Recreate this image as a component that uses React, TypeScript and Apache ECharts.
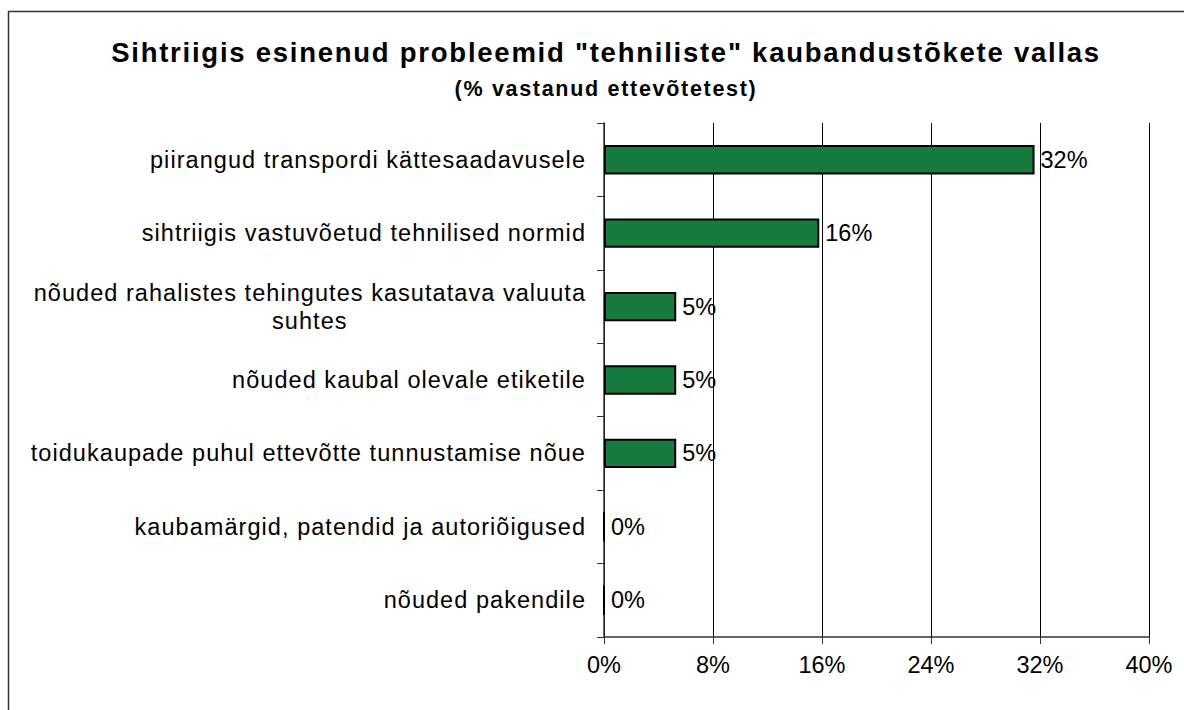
import React, { useEffect, useRef } from "react";
import * as echarts from "echarts";

const titleText = 'Sihtriigis esinenud probleemid "tehniliste" kaubandustõkete vallas';
const subtitleText = "(% vastanud ettevõtetest)";
const categories = [
  "piirangud transpordi kättesaadavusele",
  "sihtriigis vastuvõetud tehnilised normid",
  "nõuded rahalistes tehingutes kasutatava valuuta suhtes",
  "nõuded kaubal olevale etiketile",
  "toidukaupade puhul ettevõtte tunnustamise nõue",
  "kaubamärgid, patendid ja autoriõigused",
  "nõuded pakendile",
];
const values = [31.6, 15.8, 5.3, 5.3, 5.3, 0, 0];
const xMin = 0;
const xMax = 40;
const xStep = 8;

const FONT = '"Liberation Sans", Arial, sans-serif';
const LABEL_SIZE = 23.5;
const LABEL_SPACING = 1.05;
const NUM_SPACING = 0;
const TITLE_SPACING = 1.75;
const SUB_SPACING = 1.7;

function measure(text: string, size: number, spacing: number, weight = "normal"): number {
  const c = document.createElement("canvas").getContext("2d");
  if (!c) return text.length * size * 0.5;
  c.font = `${weight} ${size}px "Liberation Sans"`;
  return c.measureText(text).width + text.length * spacing;
}

function wrapLabel(text: string, maxW: number): string[] {
  const words = text.split(" ");
  const lines: string[] = [];
  let cur = "";
  for (const w of words) {
    const t = cur ? cur + " " + w : w;
    if (measure(t, LABEL_SIZE, LABEL_SPACING) > maxW && cur) {
      lines.push(cur);
      cur = w;
    } else cur = t;
  }
  if (cur) lines.push(cur);
  return lines;
}

export default function App() {
  const ref = useRef<HTMLDivElement>(null);
  useEffect(() => {
    document.body.style.margin = "0";
    if (!ref.current) return;
    const chart = echarts.init(ref.current, null, { renderer: "svg" });

    const richStyles: Record<string, any> = {};
    const labelMap: Record<string, string> = {};
    categories.forEach((cat, i) => {
      const lines = wrapLabel(cat, 572);
      if (lines.length === 1) {
        labelMap[cat] = cat;
      } else {
        const w = Math.max(...lines.map((l) => measure(l, LABEL_SIZE, LABEL_SPACING)));
        const key = "w" + i;
        richStyles[key] = {
          width: w,
          align: "center",
          fontSize: LABEL_SIZE,
          fontFamily: FONT,
          color: "#000",
          lineHeight: 28,
        };
        labelMap[cat] = lines.map((l) => `{${key}|${l}}`).join("\n");
      }
    });

    chart.setOption({
      animation: false,
      backgroundColor: "#fff",
      graphic: [
        {
          type: "rect",
          shape: { x: 8.5, y: 11.5, width: 1300, height: 900 },
          style: { fill: "none", stroke: "#333", lineWidth: 1.5 },
          silent: true,
        },
      ],
      title: [
        {
          text: titleText,
          left: 601,
          top: 33,
          textAlign: "center",
          textStyle: { fontFamily: FONT, fontSize: 27.5, fontWeight: "bold", color: "#000" },
        },
        {
          text: subtitleText,
          left: 601,
          top: 73,
          textAlign: "center",
          textStyle: { fontFamily: FONT, fontSize: 21.5, fontWeight: "bold", color: "#000" },
        },
      ],
      grid: { left: 604, top: 123, right: 35, bottom: 73, containLabel: false },
      xAxis: {
        type: "value",
        min: xMin,
        max: xMax,
        interval: xStep,
        axisLine: { show: true, lineStyle: { color: "#333", width: 1.5 } },
        axisTick: { show: true, length: 7, lineStyle: { color: "#333" } },
        splitLine: { show: true, lineStyle: { color: "#000", width: 1 } },
        axisLabel: {
          formatter: "{value}%",
          fontFamily: FONT,
          fontSize: LABEL_SIZE,
          color: "#000",
          margin: 16,
        },
      },
      yAxis: {
        type: "category",
        data: categories,
        inverse: true,
        axisLine: { show: true, lineStyle: { color: "#333", width: 1.5 } },
        axisTick: { show: true, length: 7, lineStyle: { color: "#333" } },
        axisLabel: {
          formatter: (v: string) => labelMap[v] ?? v,
          rich: richStyles,
          fontFamily: FONT,
          fontSize: LABEL_SIZE,
          color: "#000",
          margin: 18,
          lineHeight: 28,
        },
      },
      series: [
        {
          type: "bar",
          data: values,
          barCategoryGap: "60%",
          itemStyle: { color: "#177A3E", borderColor: "#000", borderWidth: 2 },
          label: {
            show: true,
            position: "right",
            distance: 6,
            formatter: (p: any) => Math.round(p.value) + "%",
            fontFamily: FONT,
            fontSize: LABEL_SIZE,
            color: "#000",
          },
        },
      ],
    });

    const applySpacing = () => {
      const root = ref.current;
      if (!root) return;
      root.querySelectorAll("text").forEach((t) => {
        const s = t.textContent || "";
        const style = (t.getAttribute("style") || "") + " " + (t.getAttribute("font-weight") || "");
        let ls = LABEL_SPACING;
        if (/bold/.test(style)) ls = s.startsWith("(") ? SUB_SPACING : TITLE_SPACING;
        else if (/^\d+%$/.test(s)) ls = NUM_SPACING;
        t.setAttribute("letter-spacing", ls + "px");
      });
    };
    chart.on("finished", applySpacing);
    applySpacing();
    const timer = setTimeout(applySpacing, 50);
    return () => {
      clearTimeout(timer);
      chart.dispose();
    };
  }, []);
  return <div ref={ref} style={{ width: 1184, height: 710 }} />;
}
